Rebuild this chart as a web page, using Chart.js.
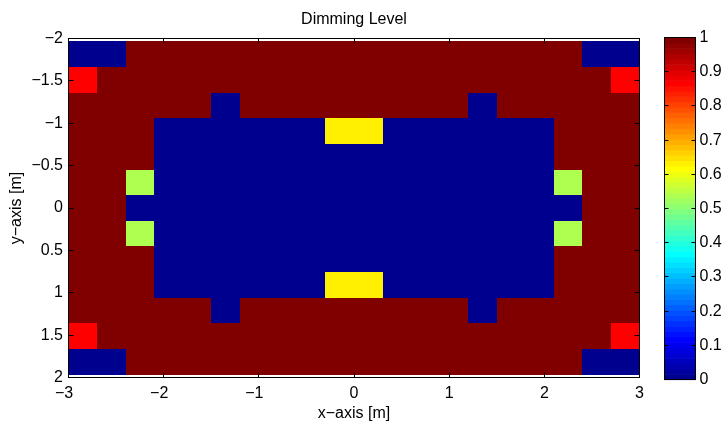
<!DOCTYPE html>
<html>
<head>
<meta charset="utf-8">
<title>Dimming Level</title>
<script src="https://cdn.jsdelivr.net/npm/chart.js@4.4.1/dist/chart.umd.min.js"></script>
<style>
  html, body { margin: 0; padding: 0; background: #fff; }
  #wrap { position: relative; width: 723px; height: 423px; }
  #main { position: absolute; left: 0; top: 0; }
  #bar { position: absolute; left: 655px; top: 0; }
</style>
</head>
<body>
<div id="wrap">
  <canvas id="main" width="655" height="423"></canvas>
  <canvas id="bar" width="68" height="423"></canvas>
</div>
<script>
// Cell centres of the luminaire grid [m]
const xCenters = [-2.85, -2.55, -2.25, -1.95, -1.65, -1.35, -1.05, -0.75, -0.45, -0.15,
                   0.15,  0.45,  0.75,  1.05,  1.35,  1.65,  1.95,  2.25,  2.55,  2.85];
const yCenters = [-1.8138, -1.5115, -1.2092, -0.9069, -0.6046, -0.3023, 0,
                   0.3023,  0.6046,  0.9069,  1.2092,  1.5115,  1.8138];
const cellWidth = 0.3;
const cellHeight = 0.3023;

// Dimming level per cell, one row per y centre (top to bottom)
const dimming = [
  [0, 0, 1, 1, 1, 1, 1, 1, 1, 1, 1, 1, 1, 1, 1, 1, 1, 1, 0, 0],
  [0.87, 1, 1, 1, 1, 1, 1, 1, 1, 1, 1, 1, 1, 1, 1, 1, 1, 1, 1, 0.87],
  [1, 1, 1, 1, 1, 0, 1, 1, 1, 1, 1, 1, 1, 1, 0, 1, 1, 1, 1, 1],
  [1, 1, 1, 0, 0, 0, 0, 0, 0, 0.63, 0.63, 0, 0, 0, 0, 0, 0, 1, 1, 1],
  [1, 1, 1, 0, 0, 0, 0, 0, 0, 0, 0, 0, 0, 0, 0, 0, 0, 1, 1, 1],
  [1, 1, 0.54, 0, 0, 0, 0, 0, 0, 0, 0, 0, 0, 0, 0, 0, 0, 0.54, 1, 1],
  [1, 1, 0, 0, 0, 0, 0, 0, 0, 0, 0, 0, 0, 0, 0, 0, 0, 0, 1, 1],
  [1, 1, 0.54, 0, 0, 0, 0, 0, 0, 0, 0, 0, 0, 0, 0, 0, 0, 0.54, 1, 1],
  [1, 1, 1, 0, 0, 0, 0, 0, 0, 0, 0, 0, 0, 0, 0, 0, 0, 1, 1, 1],
  [1, 1, 1, 0, 0, 0, 0, 0, 0, 0.63, 0.63, 0, 0, 0, 0, 0, 0, 1, 1, 1],
  [1, 1, 1, 1, 1, 0, 1, 1, 1, 1, 1, 1, 1, 1, 0, 1, 1, 1, 1, 1],
  [0.87, 1, 1, 1, 1, 1, 1, 1, 1, 1, 1, 1, 1, 1, 1, 1, 1, 1, 1, 0.87],
  [0, 0, 1, 1, 1, 1, 1, 1, 1, 1, 1, 1, 1, 1, 1, 1, 1, 1, 0, 0]
];

// Tick values
const xTicks = [-3, -2, -1, 0, 1, 2, 3];
const yTicks = [-2, -1.5, -1, -0.5, 0, 0.5, 1, 1.5, 2];
const colorbarTicks = [0, 0.1, 0.2, 0.3, 0.4, 0.5, 0.6, 0.7, 0.8, 0.9, 1];

const FONT = '"Liberation Sans", Arial, Helvetica, sans-serif';
Chart.defaults.font.family = FONT;
Chart.defaults.font.size = 16;
Chart.defaults.color = '#000';

// 64-level jet colormap
function jetColor(v) {
  const m = 64;
  let i = Math.floor(v * m);
  if (i > m - 1) i = m - 1;
  if (i < 0) i = 0;
  const idx = i + 1;
  const u = k => {
    if (k < 1 || k > 47) return 0;
    if (k <= 16) return k / 16;
    if (k <= 31) return 1;
    return (48 - k) / 16;
  };
  const r = u(idx - 24), g = u(idx - 8), b = u(idx + 8);
  return 'rgb(' + Math.round(r * 255) + ',' + Math.round(g * 255) + ',' + Math.round(b * 255) + ')';
}

function fmtTick(v) {
  const s = String(Math.round(v * 10) / 10);
  return s.replace('-', '\u2212');
}

const cells = [];
yCenters.forEach((y, r) => {
  xCenters.forEach((x, c) => {
    cells.push({ x: x, y: y, v: dimming[r][c] });
  });
});

// Filled cells, one rectangle per data point
const heatCells = {
  id: 'heatCells',
  beforeDatasetsDraw(chart) {
    const { ctx, chartArea, scales } = chart;
    const xs = scales.x, ys = scales.y;
    ctx.save();
    ctx.beginPath();
    ctx.rect(chartArea.left, chartArea.top, chartArea.right - chartArea.left, chartArea.bottom - chartArea.top);
    ctx.clip();
    chart.data.datasets[0].data.forEach(p => {
      const x0 = Math.round(xs.getPixelForValue(p.x - cellWidth / 2));
      const x1 = Math.round(xs.getPixelForValue(p.x + cellWidth / 2));
      const y0 = Math.round(ys.getPixelForValue(p.y - cellHeight / 2));
      const y1 = Math.round(ys.getPixelForValue(p.y + cellHeight / 2));
      ctx.fillStyle = jetColor(p.v);
      ctx.fillRect(Math.min(x0, x1), Math.min(y0, y1), Math.abs(x1 - x0), Math.abs(y1 - y0));
    });
    ctx.restore();
  }
};

// Box outline with inward tick marks on all four sides
const boxTicks = {
  id: 'boxTicks',
  afterDraw(chart) {
    const { ctx, chartArea, scales } = chart;
    const { left, right, top, bottom } = chartArea;
    const len = 5;
    ctx.save();
    ctx.strokeStyle = '#000';
    ctx.lineWidth = 1;
    ctx.beginPath();
    xTicks.forEach(v => {
      const px = Math.round(scales.x.getPixelForValue(v) - 0.5) + 0.5;
      ctx.moveTo(px, bottom); ctx.lineTo(px, bottom - len);
      ctx.moveTo(px, top); ctx.lineTo(px, top + len);
    });
    yTicks.forEach(v => {
      const py = Math.round(scales.y.getPixelForValue(v) - 0.5) + 0.5;
      ctx.moveTo(left, py); ctx.lineTo(left + len, py);
      ctx.moveTo(right, py); ctx.lineTo(right - len, py);
    });
    ctx.stroke();
    ctx.strokeRect(left, top, right - left, bottom - top);
    ctx.restore();
  }
};

new Chart(document.getElementById('main'), {
  type: 'scatter',
  data: {
    datasets: [{ data: cells, pointRadius: 0, pointHoverRadius: 0 }]
  },
  options: {
    responsive: false,
    animation: false,
    events: [],
    layout: { padding: { left: 0, right: 15.5, top: 0, bottom: 0 } },
    plugins: {
      legend: { display: false },
      tooltip: { enabled: false },
      title: {
        display: true,
        fullSize: false,
        text: 'Dimming Level',
        color: '#000',
        font: { size: 16, weight: 'normal' },
        padding: { top: 10.4, bottom: 8.9 }
      }
    },
    scales: {
      x: {
        type: 'linear',
        position: 'bottom',
        min: -3,
        max: 3,
        grid: { display: false, drawTicks: false },
        border: { display: false },
        afterBuildTicks: s => { s.ticks = xTicks.map(v => ({ value: v })); },
        afterFit: s => { s.height = 45.5; },
        ticks: {
          autoSkip: false,
          maxRotation: 0,
          padding: 6,
          color: '#000',
          callback: v => fmtTick(v) + (v < 0 ? '\u2007' : '')
        },
        title: {
          display: true,
          text: 'x\u2212axis [m]',
          color: '#000',
          font: { size: 16 },
          padding: { top: 0, bottom: 0 }
        }
      },
      y: {
        type: 'linear',
        position: 'left',
        reverse: true,
        min: -2,
        max: 2,
        grid: { display: false, drawTicks: false },
        border: { display: false },
        afterBuildTicks: s => { s.ticks = yTicks.map(v => ({ value: v })); },
        afterFit: s => { s.width = 68.5; },
        ticks: {
          autoSkip: false,
          padding: 5.5,
          color: '#000',
          callback: v => fmtTick(v)
        },
        title: {
          display: true,
          text: 'y\u2212axis [m]',
          color: '#000',
          font: { size: 16 },
          padding: { top: 7, bottom: 0 }
        }
      }
    }
  },
  plugins: [heatCells, boxTicks]
});

// Colour bar: 64 bands along a 0..1 scale
const colorbarBands = {
  id: 'colorbarBands',
  beforeDatasetsDraw(chart) {
    const { ctx, chartArea, scales } = chart;
    const ys = scales.y;
    const { left, right } = chartArea;
    ctx.save();
    for (let i = 0; i < 64; i++) {
      const y0 = ys.getPixelForValue(i / 64);
      const y1 = ys.getPixelForValue((i + 1) / 64);
      ctx.fillStyle = jetColor((i + 0.5) / 64);
      ctx.fillRect(left, y1, right - left, y0 - y1 + 0.6);
    }
    ctx.restore();
  },
  afterDraw(chart) {
    const { ctx, chartArea, scales } = chart;
    const { left, right, top, bottom } = chartArea;
    const len = 4;
    ctx.save();
    ctx.strokeStyle = '#000';
    ctx.lineWidth = 1;
    ctx.beginPath();
    colorbarTicks.forEach(v => {
      const py = Math.round(scales.y.getPixelForValue(v) - 0.5) + 0.5;
      ctx.moveTo(left, py); ctx.lineTo(left + len, py);
      ctx.moveTo(right, py); ctx.lineTo(right - len, py);
    });
    ctx.stroke();
    ctx.strokeRect(left, top, right - left, bottom - top);
    ctx.restore();
  }
};

new Chart(document.getElementById('bar'), {
  type: 'scatter',
  data: { datasets: [{ data: [], pointRadius: 0 }] },
  options: {
    responsive: false,
    animation: false,
    events: [],
    layout: { padding: { left: 9.5, right: 0, top: 37.5, bottom: 43.5 } },
    plugins: { legend: { display: false }, tooltip: { enabled: false }, title: { display: false } },
    scales: {
      x: { type: 'linear', display: false, min: 0, max: 1 },
      y: {
        type: 'linear',
        position: 'right',
        min: 0,
        max: 1,
        grid: { display: false, drawTicks: false },
        border: { display: false },
        afterBuildTicks: s => { s.ticks = colorbarTicks.map(v => ({ value: v })); },
        afterFit: s => { s.width = 27.5; },
        ticks: {
          autoSkip: false,
          padding: 4,
          color: '#000',
          callback: v => fmtTick(v)
        }
      }
    }
  },
  plugins: [colorbarBands]
});
</script>
</body>
</html>
